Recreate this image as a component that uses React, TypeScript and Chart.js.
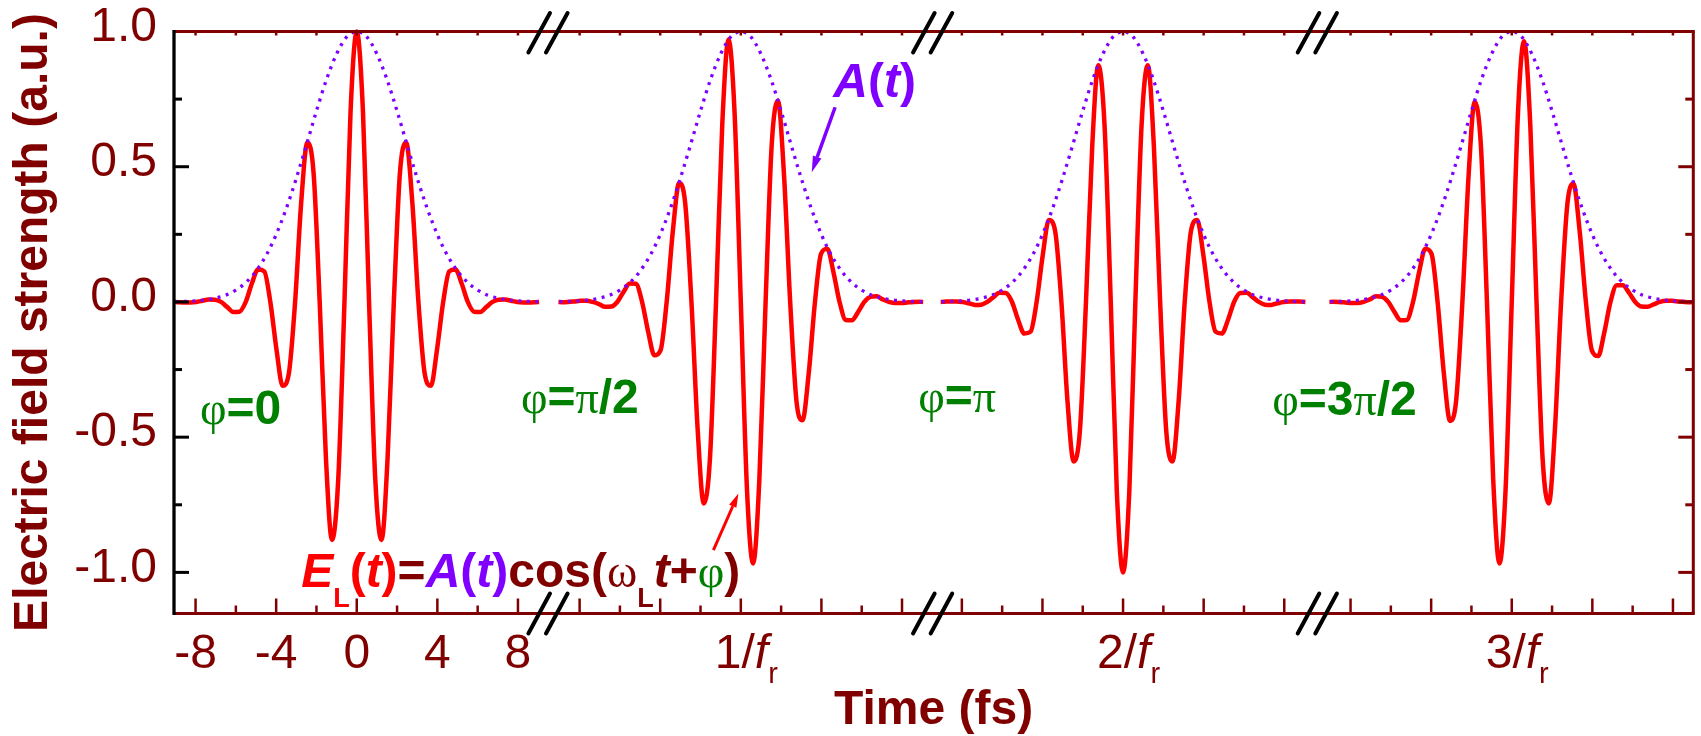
import React, { useEffect, useRef } from "react";
import { Chart, registerables } from "chart.js";

Chart.register(...registerables);

// ---------------- data ----------------
// centre of each pulse on the broken time axis: 0, 1/fr, 2/fr, 3/fr
const pulseCenters = [0, 19.06, 38.03, 57.32];
const axisRangeX = [-9.07, 66.33];
const axisRangeY = [-1.152, 1.0];

// time (fs, relative to each pulse centre) of the sampled field values
const pulseTimes = [
  -9.05, -8.88, -8.58, -8.27, -7.96, -7.66, -7.35, -7.04, -6.74, -6.43, -6.13,
  -5.82, -5.51, -5.21, -4.9, -4.59, -4.29, -3.98, -3.68, -3.37, -3.06, -2.76,
  -2.45, -2.14, -1.84, -1.53, -1.23, -0.92, -0.61, -0.31, 0, 0.31, 0.61, 0.92,
  1.23, 1.53, 1.84, 2.14, 2.45, 2.76, 3.06, 3.37, 3.68, 3.98, 4.29, 4.59, 4.9,
  5.21, 5.51, 5.82, 6.13, 6.43, 6.74, 7.04, 7.35, 7.66, 7.96, 8.27, 8.58, 8.88,
  9.05,
];
// phi = 0
const fieldPhase0 = [
  0, -0.0007, -0.002, -0.0018, 0, 0.0043, 0.009, 0.0085, 0, -0.019, -0.037,
  -0.036, 0, 0.067, 0.12, 0.113, 0, -0.178, -0.31, -0.264, 0, 0.365, 0.59,
  0.474, 0, -0.577, -0.88, -0.657, 0, 0.7, 1.0, 0.7, 0, -0.657, -0.88, -0.577,
  0, 0.474, 0.59, 0.365, 0, -0.264, -0.31, -0.178, 0, 0.113, 0.12, 0.067, 0,
  -0.036, -0.037, -0.019, 0, 0.0085, 0.009, 0.0043, 0, -0.0018, -0.002, -0.0007,
  0,
];
// phi = pi/2
const fieldPhaseHalfPi = [
  0, -0.0007, 0, 0.0018, 0.004, 0.0043, 0, -0.008, -0.018, -0.017, 0, 0.037,
  0.068, 0.067, 0, -0.113, -0.197, -0.178, 0, 0.264, 0.44, 0.365, 0, -0.474,
  -0.745, -0.577, 0, 0.657, 0.97, 0.7, 0, -0.7, -0.967, -0.657, 0, 0.577, 0.745,
  0.474, 0, -0.365, -0.437, -0.264, 0, 0.178, 0.197, 0.113, 0, -0.067, -0.068,
  -0.037, 0, 0.019, 0.021, 0.0095, 0, -0.0043, -0.004, -0.0018, 0, 0.0007, 0,
];
// phi = pi
const fieldPhasePi = [
  0, 0.0007, 0.002, 0.0018, 0, -0.005, -0.011, -0.01, 0, 0.018, 0.034, 0.033, 0,
  -0.066, -0.117, -0.11, 0, 0.176, 0.303, 0.262, 0, -0.365, -0.59, -0.474, 0,
  0.575, 0.875, 0.655, 0, -0.7, -1.0, -0.7, 0, 0.655, 0.875, 0.575, 0, -0.474,
  -0.59, -0.365, 0, 0.262, 0.303, 0.176, 0, -0.11, -0.117, -0.066, 0, 0.033,
  0.034, 0.018, 0, -0.01, -0.011, -0.005, 0, 0.0018, 0.002, 0.0007, 0,
];
// phi = 3pi/2
const fieldPhase3HalfPi = [
  0, 0.0007, 0, -0.0018, -0.004, -0.0043, 0, 0.0095, 0.021, 0.019, 0, -0.037,
  -0.068, -0.067, 0, 0.113, 0.197, 0.178, 0, -0.264, -0.44, -0.365, 0, 0.47,
  0.74, 0.577, 0, -0.657, -0.967, -0.7, 0, 0.7, 0.964, 0.655, 0, -0.577, -0.745,
  -0.474, 0, 0.362, 0.437, 0.262, 0, -0.18, -0.2, -0.114, 0, 0.062, 0.062,
  0.034, 0, -0.017, -0.018, -0.009, 0, 0.004, 0.004, 0.0018, 0, -0.0007, 0,
];

// envelope A(t)
const envelopeTimes = [
  -9, -8.5, -8, -7.5, -7, -6.5, -6, -5.5, -5, -4.5, -4, -3.5, -3, -2.5, -2, -1.5,
  -1, -0.5, 0, 0.5, 1, 1.5, 2, 2.5, 3, 3.5, 4, 4.5, 5, 5.5, 6, 6.5, 7, 7.5, 8,
  8.5, 9,
];
const envelopeValues = [
  0.0008, 0.0018, 0.0038, 0.0075, 0.014, 0.025, 0.044, 0.072, 0.114, 0.172,
  0.249, 0.345, 0.457, 0.58, 0.706, 0.823, 0.917, 0.98, 1.0, 0.98, 0.917, 0.823,
  0.706, 0.58, 0.457, 0.345, 0.249, 0.172, 0.114, 0.072, 0.044, 0.025, 0.014,
  0.0075, 0.0038, 0.0018, 0.0008,
];

const yTickValues = [-1, -0.75, -0.5, -0.25, 0, 0.25, 0.5, 0.75, 1];
const yTickLabelValues = [-1, -0.5, 0, 0.5, 1];
const xTickOffsets = [-8, -6, -4, -2, 0, 2, 4, 6, 8];
const firstPulseLabelOffsets = [-8, -4, 0, 4, 8];
const pulseLabelNumbers = ["", "1", "2", "3"];
const axisBreaks = [9.49, 28.58, 47.67];
const phaseLabels = [
  ["φ", "=0"],
  ["φ", "=", "π", "/2"],
  ["φ", "=", "π"],
  ["φ", "=3", "π", "/2"],
];

// ---------------- styles ----------------
const DARK = "#800000";
const RED = "#ff0000";
const PURPLE = "#8000ff";
const GREEN = "#008000";
const SANS = '"Liberation Sans", Arial, Helvetica, sans-serif';
const SERIF = '"Liberation Serif", "Times New Roman", "DejaVu Serif", serif';
const B48 = `bold 48px ${SANS}`;
const BI48 = `italic bold 48px ${SANS}`;
const R48 = `48px ${SANS}`;
const I48 = `italic 48px ${SANS}`;
const SUB = `bold 27px ${SANS}`;
const GREEK = `46px ${SERIF}`;

type Part = { t: string; f: string; c: string; dy?: number };

function drawParts(ctx: CanvasRenderingContext2D, x: number, y: number, parts: Part[]) {
  let cx = x;
  ctx.textAlign = "left";
  ctx.textBaseline = "alphabetic";
  for (const p of parts) {
    ctx.font = p.f;
    ctx.fillStyle = p.c;
    ctx.fillText(p.t, cx, y + (p.dy || 0));
    cx += ctx.measureText(p.t).width;
  }
  return cx;
}

function seg(ctx: CanvasRenderingContext2D, x1: number, y1: number, x2: number, y2: number, color: string, w: number) {
  ctx.strokeStyle = color;
  ctx.lineWidth = w;
  ctx.beginPath();
  ctx.moveTo(x1, y1);
  ctx.lineTo(x2, y2);
  ctx.stroke();
}

function arrow(ctx: CanvasRenderingContext2D, x1: number, y1: number, x2: number, y2: number, color: string, w: number, hl: number, hw: number) {
  const ang = Math.atan2(y2 - y1, x2 - x1);
  const bx = x2 - hl * Math.cos(ang);
  const by = y2 - hl * Math.sin(ang);
  seg(ctx, x1, y1, bx, by, color, w);
  ctx.fillStyle = color;
  ctx.beginPath();
  ctx.moveTo(x2, y2);
  ctx.lineTo(bx + (hw / 2) * Math.sin(ang), by - (hw / 2) * Math.cos(ang));
  ctx.lineTo(bx - (hw / 2) * Math.sin(ang), by + (hw / 2) * Math.cos(ang));
  ctx.closePath();
  ctx.fill();
}

const decorPlugin = {
  id: "decor",
  afterDatasetsDraw(chart: any) {
    const { ctx, chartArea: a, scales } = chart;
    const X = (u: number) => scales.x.getPixelForValue(u);
    const Y = (v: number) => scales.y.getPixelForValue(v);
    ctx.save();
    ctx.lineCap = "butt";

    // x ticks (bottom inward, top tiny)
    for (const c of pulseCenters) {
      for (const o of xTickOffsets) {
        const px = X(c + o);
        const major = o % 4 === 0;
        seg(ctx, px, a.bottom, px, a.bottom - (major ? 15 : 8), DARK, 2.5);
        seg(ctx, px, a.top, px, a.top + 4, DARK, 2.5);
      }
    }
    // y ticks (left black, right dark red, both inward)
    for (const v of yTickValues) {
      const py = Y(v);
      const major = Math.abs(v * 2 - Math.round(v * 2)) < 1e-6;
      const len = major ? 15 : 8;
      seg(ctx, a.left, py, a.left + len, py, "#000", 3);
      seg(ctx, a.right, py, a.right - len, py, DARK, 3);
    }
    // frame
    seg(ctx, a.left, a.top, a.right + 1.5, a.top, DARK, 3);
    seg(ctx, a.left, a.bottom, a.right + 1.5, a.bottom, DARK, 3);
    seg(ctx, a.right, a.top, a.right, a.bottom, DARK, 3);
    seg(ctx, a.left, a.top - 1.5, a.left, a.bottom + 1.5, "#000", 3.3);

    // axis breaks
    ctx.lineCap = "round";
    for (const b of axisBreaks) {
      const px = X(b);
      for (const off of [-8.8, 8.8]) {
        seg(ctx, px + off - 10.8, a.top + 21, px + off + 10.8, a.top - 18.5, "#000", 4);
        seg(ctx, px + off - 10.8, a.bottom + 20, px + off + 10.8, a.bottom - 20, "#000", 4);
      }
    }
    ctx.lineCap = "butt";

    // x tick labels
    const labelBase = a.bottom + 54.5;
    ctx.font = R48;
    ctx.fillStyle = DARK;
    ctx.textAlign = "center";
    ctx.textBaseline = "alphabetic";
    for (const o of firstPulseLabelOffsets) {
      ctx.fillText(String(o), X(pulseCenters[0] + o), labelBase);
    }
    for (let k = 1; k < pulseCenters.length; k++) {
      drawParts(ctx, X(pulseCenters[k]) - 26, labelBase, [
        { t: pulseLabelNumbers[k] + "/", f: R48, c: DARK },
        { t: "f", f: I48, c: DARK },
        { t: "r", f: `29px ${SANS}`, c: DARK, dy: 15 },
      ]);
    }

    // phase labels
    const phaseAnchors = [
      [-7.78, -0.452],
      [8.15, -0.411],
      [27.86, -0.408],
      [45.43, -0.419],
    ];
    phaseLabels.forEach((pl, i) => {
      const parts = pl.map((t) => ({
        t,
        f: t === "φ" || t === "π" ? GREEK : B48,
        c: GREEN,
      }));
      drawParts(ctx, X(phaseAnchors[i][0]), Y(phaseAnchors[i][1]), parts);
    });

    // A(t) label and arrow
    drawParts(ctx, X(23.65), Y(0.757), [
      { t: "A", f: BI48, c: PURPLE },
      { t: "(", f: B48, c: PURPLE },
      { t: "t", f: BI48, c: PURPLE },
      { t: ")", f: B48, c: PURPLE },
    ]);
    arrow(ctx, X(23.74), Y(0.72), X(22.58), Y(0.48), PURPLE, 3.5, 16, 9);

    // formula and arrow
    drawParts(ctx, X(-2.76), Y(-1.054), [
      { t: "E", f: BI48, c: RED },
      { t: "L", f: SUB, c: RED, dy: 20 },
      { t: "(", f: B48, c: RED },
      { t: "t", f: BI48, c: RED },
      { t: ")", f: B48, c: RED },
      { t: "=", f: B48, c: DARK },
      { t: "A", f: BI48, c: PURPLE },
      { t: "(", f: B48, c: PURPLE },
      { t: "t", f: BI48, c: PURPLE },
      { t: ")", f: B48, c: PURPLE },
      { t: "cos(", f: B48, c: DARK },
      { t: "ω", f: GREEK, c: DARK },
      { t: "L", f: SUB, c: DARK, dy: 20 },
      { t: "t", f: BI48, c: DARK },
      { t: "+", f: B48, c: DARK },
      { t: "φ", f: GREEK, c: GREEN },
      { t: ")", f: B48, c: DARK },
    ]);
    arrow(ctx, X(17.7), Y(-0.918), X(18.94), Y(-0.708), RED, 3, 14, 8);

    ctx.restore();
  },
};

export default function App() {
  const canvasRef = useRef<HTMLCanvasElement | null>(null);

  useEffect(() => {
    document.body.style.margin = "0";
    const canvas = canvasRef.current;
    if (!canvas) return;

    const fields = [fieldPhase0, fieldPhaseHalfPi, fieldPhasePi, fieldPhase3HalfPi];
    const envelopeSets = pulseCenters.map((c) => ({
      label: "A(t)",
      data: envelopeTimes.map((t, i) => ({ x: c + t, y: envelopeValues[i] })),
      borderColor: PURPLE,
      borderWidth: 3.3,
      borderDash: [3, 5.5],
      pointRadius: 0,
      fill: false,
      cubicInterpolationMode: "monotone" as const,
      clip: false as any,
    }));
    const fieldSets = pulseCenters.map((c, k) => ({
      label: "E_L(t)",
      data: pulseTimes.map((t, i) => ({ x: c + t, y: fields[k][i] })),
      borderColor: RED,
      borderWidth: 4.5,
      pointRadius: 0,
      fill: false,
      cubicInterpolationMode: "monotone" as const,
      clip: false as any,
    }));

    const chart = new Chart(canvas, {
      type: "line",
      data: { datasets: [...envelopeSets, ...fieldSets] as any },
      options: {
        responsive: false,
        animation: false,
        events: [],
        layout: { padding: { top: 31.5, right: 7.7, bottom: 0, left: 0 } },
        plugins: { legend: { display: false }, tooltip: { enabled: false } },
        scales: {
          x: {
            type: "linear",
            min: axisRangeX[0],
            max: axisRangeX[1],
            grid: { display: false, drawTicks: false },
            border: { display: false },
            ticks: { display: false },
            title: {
              display: true,
              text: "Time (fs)",
              color: DARK,
              font: { family: SANS, size: 48, weight: "bold", lineHeight: 1.05 },
              padding: { top: 0, bottom: 0 },
            },
            afterFit: (s: any) => {
              s.height = 122.5;
              s.paddingLeft = 0;
              s.paddingRight = 0;
            },
          },
          y: {
            type: "linear",
            min: axisRangeY[0],
            max: axisRangeY[1],
            grid: { display: false, drawTicks: false },
            border: { display: false },
            afterBuildTicks: (s: any) => {
              s.ticks = yTickLabelValues.map((v) => ({ value: v }));
            },
            ticks: {
              color: DARK,
              font: { family: SANS, size: 48 },
              padding: 17,
              labelOffset: -4,
              callback: (v: any) => Number(v).toFixed(1),
            },
            title: {
              display: true,
              text: "Electric field strength (a.u.)",
              color: DARK,
              font: { family: SANS, size: 48, weight: "bold" },
              padding: { top: 5, bottom: 0 },
            },
            afterFit: (s: any) => {
              s.width = 174;
              s.paddingTop = 0;
              s.paddingBottom = 0;
            },
          },
        },
      } as any,
      plugins: [decorPlugin],
    });

    return () => chart.destroy();
  }, []);

  return (
    <div style={{ position: "absolute", left: 0, top: 0, width: 1701, height: 736, background: "#fff" }}>
      <canvas ref={canvasRef} width={1701} height={736} style={{ display: "block" }} />
    </div>
  );
}
